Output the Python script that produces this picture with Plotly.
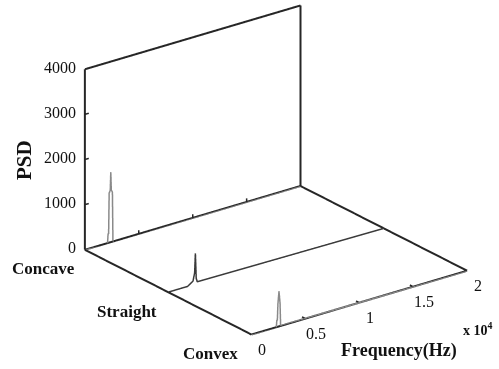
import plotly.graph_objects as go

# ---------------- data ----------------
categories = ["Concave", "Straight", "Convex"]
cat_pos = [2, 1, 0]

freq_concave = [0, 2100, 2150, 2200, 2250, 2350, 2400, 2450, 2550, 2600, 2650, 20000]
psd_concave = [0, 0, 200, 200, 1100, 1150, 1550, 1150, 1100, 0, 0, 0]

freq_straight = [0, 1800, 2300, 2450, 2520, 2600, 2700, 20000]
psd_straight = [0, 0, 80, 250, 680, 120, 40, 0]

freq_convex = [0, 2300, 2350, 2400, 2450, 2550, 2650, 2700, 2750, 20000]
psd_convex = [0, 0, 150, 150, 500, 780, 500, 0, 0, 0]

freq_ticks = [0, 5000, 10000, 15000, 20000]
freq_ticklabels = ["0", "0.5", "1", "1.5", "2"]
psd_ticks = [0, 1000, 2000, 3000, 4000]

F_MAX = 20000
Y_MAX = 2
Z_MAX = 4000

FONT = "Liberation Serif"
INK = "#262626"

fig = go.Figure()

series = [
    (cat_pos[0], freq_concave, psd_concave, "#8a8a8a", 3),
    (cat_pos[1], freq_straight, psd_straight, "#3a3a3a", 3),
    (cat_pos[2], freq_convex, psd_convex, "#8a8a8a", 3),
]
for yv, f, p, c, w in series:
    fig.add_trace(go.Scatter3d(x=f, y=[yv] * len(f), z=p, mode="lines",
                               line=dict(color=c, width=w),
                               hoverinfo="skip", showlegend=False))


def segs(pairs):
    xs, ys, zs = [], [], []
    for a, b in pairs:
        xs += [a[0], b[0], None]
        ys += [a[1], b[1], None]
        zs += [a[2], b[2], None]
    return xs, ys, zs


# frame edges (from axis ranges)
edges = [
    ((0, Y_MAX, 0), (F_MAX, Y_MAX, 0)),
    ((0, Y_MAX, Z_MAX), (F_MAX, Y_MAX, Z_MAX)),
    ((0, Y_MAX, 0), (0, Y_MAX, Z_MAX)),
    ((F_MAX, Y_MAX, 0), (F_MAX, Y_MAX, Z_MAX)),
    ((0, 0, 0), (F_MAX, 0, 0)),
    ((0, 0, 0), (0, Y_MAX, 0)),
    ((F_MAX, 0, 0), (F_MAX, Y_MAX, 0)),
]
fx, fy, fz = segs(edges)
fig.add_trace(go.Scatter3d(x=fx, y=fy, z=fz, mode="lines",
                           line=dict(color=INK, width=4),
                           hoverinfo="skip", showlegend=False, connectgaps=False))

# inward tick marks (derived from tick values and axis ranges)
tl_f = 0.018 * F_MAX
tl_y = 0.02 * Y_MAX
tl_z = 0.02 * Z_MAX
ticks = []
for v in psd_ticks[1:]:
    ticks.append(((0, Y_MAX, v), (tl_f, Y_MAX, v)))
for v in freq_ticks[1:-1]:
    ticks.append(((v, 0, 0), (v, tl_y, 0)))
    ticks.append(((v, Y_MAX, 0), (v, Y_MAX, tl_z)))
tx, ty, tz = segs(ticks)
fig.add_trace(go.Scatter3d(x=tx, y=ty, z=tz, mode="lines",
                           line=dict(color=INK, width=3),
                           hoverinfo="skip", showlegend=False, connectgaps=False))

ax = dict(showgrid=False, zeroline=False, showbackground=False,
          showticklabels=False, showline=False, showspikes=False,
          title=dict(text=""), ticks="")

annots = []
for v in psd_ticks:
    annots.append(dict(x=0, y=Y_MAX, z=v, text=str(v), showarrow=False,
                       xanchor="right", yanchor="middle", xshift=-7, yshift=2,
                       font=dict(family=FONT, size=16, color="#111")))
for v, t in zip(freq_ticks, freq_ticklabels):
    annots.append(dict(x=v, y=0, z=0, text=t, showarrow=False,
                       xanchor="center", yanchor="middle", xshift=11, yshift=-15,
                       font=dict(family=FONT, size=16, color="#111")))
for c, yv in zip(categories, cat_pos):
    annots.append(dict(x=0, y=yv, z=0, text="<b>%s</b>" % c, showarrow=False,
                       xanchor="center", yanchor="middle", xshift=-41, yshift=-19,
                       font=dict(family=FONT, size=17, color="#111")))

d = 2.0
k = 1.616
fig.update_layout(
    width=499, height=369,
    margin=dict(l=0, r=0, t=0, b=0),
    paper_bgcolor="white",
    scene=dict(
        xaxis=dict(range=[0, F_MAX], **ax),
        yaxis=dict(range=[0, Y_MAX], **ax),
        zaxis=dict(range=[0, Z_MAX], **ax),
        aspectmode="manual",
        aspectratio=dict(x=0.987 * k, y=1.0 * k, z=0.713 * k),
        camera=dict(eye=dict(x=-0.559 * d, y=-0.733 * d, z=0.388 * d),
                    up=dict(x=0, y=0, z=1), center=dict(x=0, y=0, z=0),
                    projection=dict(type="orthographic")),
        domain=dict(x=[0.106, 1.0], y=[0.078, 1.0]),
        annotations=annots,
    ),
    annotations=[
        dict(x=24 / 499, y=1 - 160 / 369, xref="paper", yref="paper", text="<b>PSD</b>",
             xanchor="center", yanchor="middle",
             textangle=-90, showarrow=False, font=dict(family=FONT, size=21, color="#111")),
        dict(x=399 / 499, y=1 - 350 / 369, xref="paper", yref="paper", text="<b>Frequency(Hz)</b>",
             xanchor="center", yanchor="middle",
             showarrow=False, font=dict(family=FONT, size=18, color="#111")),
        dict(x=478 / 499, y=1 - 329 / 369, xref="paper", yref="paper", text="<b>x 10<sup>4</sup></b>",
             xanchor="center", yanchor="middle",
             showarrow=False, font=dict(family=FONT, size=14, color="#111")),
    ],
)

fig.write_html("out.html")
